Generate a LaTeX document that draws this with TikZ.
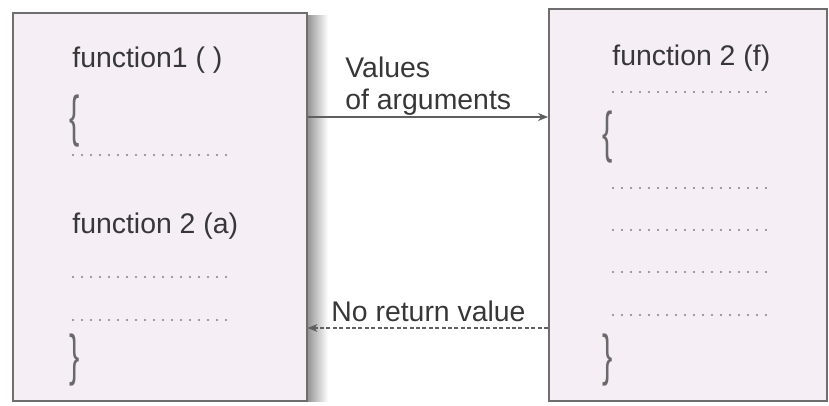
\documentclass[tikz,border=0pt]{standalone}
\usepackage{fontspec}
\setmainfont{Liberation Sans}
\usepackage{graphicx}
\usetikzlibrary{arrows.meta, positioning}
\definecolor{boxfill}{RGB}{245,238,245}
\definecolor{boxline}{RGB}{110,110,110}
\definecolor{inkgray}{RGB}{55,55,55}
\definecolor{bracegray}{RGB}{105,105,105}
\definecolor{dotgray}{RGB}{130,130,130}
\definecolor{arrgray}{RGB}{95,95,95}
\tikzset{
  fnbox/.style={rectangle, draw=boxline, line width=0.8pt, fill=boxfill, anchor=north west, inner sep=0pt},
  code/.style={anchor=west, inner sep=0pt, text=inkgray, font=\fontsize{14.2}{17}\selectfont},
  brace/.style={inner sep=0pt, text=bracegray, font=\fontsize{28}{28}\selectfont},
  dotrow/.style={dotgray, line width=1.1pt, line cap=round, dash pattern=on 0pt off 4.5pt},
  arr/.style={-{Stealth[length=5pt, width=4pt]}, line width=0.6pt, draw=arrgray},
  retarr/.style={arr, dash pattern=on 2pt off 1.2pt}
}
\newcommand{\thinbrace}[1]{\scalebox{0.55}[1]{#1}}

\begin{document}
\begin{tikzpicture}[x=0.5pt, y=-0.5pt]
\useasboundingbox (0,0) rectangle (829,406);
% shadow of the calling box
\shade[left color=black!45, right color=white] (306,16) rectangle (328,401);
\node[fnbox, minimum width=147pt, minimum height=194pt] (caller) at (12,12) {};
\node[fnbox, minimum width=139pt, minimum height=196pt] (callee) at (548,8) {};
% calling function
\node[code] (f1) at (72,60) {function1 ( )};
\node[brace] (open1) at (75,121) {\thinbrace{\{}};
\node[code] (call) at (72,226) {function 2 (a)};
\node[brace] (close1) at (75,360) {\thinbrace{\}}};
\foreach \y in {155,277,320} \draw[dotrow] (73,\y) -- (234,\y);
% called function
\node[code] (f2) at (612,58) {function 2 (f)};
\node[brace] (open2) at (608,137) {\thinbrace{\{}};
\node[brace] (close2) at (608,360) {\thinbrace{\}}};
\foreach \y in {92,188,230,272,315} \draw[dotrow] (613,\y) -- (773,\y);
% arguments in, nothing back
\node[code, anchor=north west, align=left, font=\fontsize{14.2}{16}\selectfont] (args) at (345,57) {Values\\of arguments};
\node[code] (noret) at (331,311) {No return value};
\draw[arr] (caller.east |- 0,117) -- (callee.west |- 0,117);
\draw[retarr] (callee.west |- 0,328) -- (caller.east |- 0,328);
\end{tikzpicture}
\end{document}
